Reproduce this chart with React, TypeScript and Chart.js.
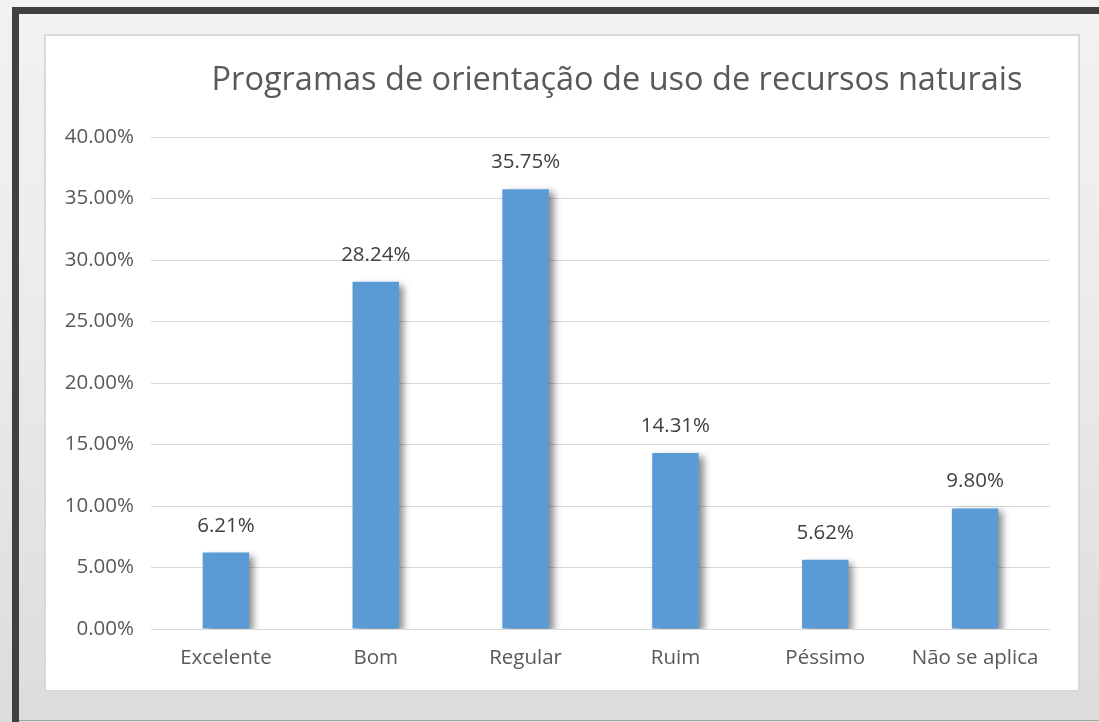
import React, { useEffect, useRef } from "react";
import { Chart, registerables } from "chart.js";

Chart.register(...registerables);

const titleText = "Programas de orientação de uso de recursos naturais";
const categories = ["Excelente", "Bom", "Regular", "Ruim", "Péssimo", "Não se aplica"];
const values = [6.21, 28.24, 35.75, 14.31, 5.62, 9.8];
const yMin = 0;
const yMax = 40;
const yStep = 5;

const FONT = "'Open Sans', Lato, sans-serif";

export default function App() {
  const ref = useRef<HTMLCanvasElement | null>(null);

  useEffect(() => {
    const canvas = ref.current;
    if (!canvas) return;

    const decor = {
      id: "decor",
      beforeDatasetsDraw(chart: any) {
        const ctx = chart.ctx;
        ctx.save();
        ctx.shadowColor = "rgba(0,0,0,0.45)";
        ctx.shadowBlur = 7;
        ctx.shadowOffsetX = 5;
        ctx.shadowOffsetY = 3;
      },
      afterDatasetsDraw(chart: any) {
        const ctx = chart.ctx;
        ctx.restore();
        ctx.save();
        ctx.font = `20.5px ${FONT}`;
        ctx.fillStyle = "#404040";
        ctx.textAlign = "center";
        ctx.textBaseline = "alphabetic";
        const meta = chart.getDatasetMeta(0);
        meta.data.forEach((bar: any, i: number) => {
          ctx.fillText(values[i].toFixed(2) + "%", bar.x, bar.y - 21);
        });
        ctx.restore();
      },
      afterDraw(chart: any) {
        const ctx = chart.ctx;
        ctx.save();
        ctx.font = `32.5px ${FONT}`;
        ctx.fillStyle = "#595959";
        ctx.textAlign = "center";
        ctx.textBaseline = "alphabetic";
        ctx.fillText(titleText, 571, 54);
        ctx.restore();
      },
    };

    const chart = new Chart(canvas, {
      type: "bar",
      data: {
        labels: categories,
        datasets: [
          {
            data: values,
            backgroundColor: "#5B9BD5",
            borderWidth: 0,
            barPercentage: 0.31,
            categoryPercentage: 1,
          },
        ],
      },
      options: {
        responsive: false,
        animation: false,
        devicePixelRatio: 1,
        layout: { padding: { top: 101, right: 28, left: 0, bottom: 0 } },
        plugins: {
          legend: { display: false },
          title: { display: false },
          tooltip: { enabled: false },
        },
        scales: {
          y: {
            min: yMin,
            max: yMax,
            ticks: {
              stepSize: yStep,
              color: "#595959",
              font: { family: FONT, size: 20.5 },
              padding: 17,
              callback: (v: any) => Number(v).toFixed(2) + "%",
            },
            grid: { color: "#d9d9d9", lineWidth: 1, drawTicks: false },
            border: { display: false },
            afterFit: (s: any) => {
              s.width = 105;
            },
          },
          x: {
            ticks: {
              color: "#595959",
              font: { family: FONT, size: 20.5 },
              padding: 17,
            },
            grid: { display: false, drawTicks: false },
            border: { display: false },
            afterFit: (s: any) => {
              s.height = 61;
            },
          },
        },
      },
      plugins: [decor],
    });

    return () => chart.destroy();
  }, []);

  return (
    <div
      style={{
        position: "fixed",
        left: 0,
        top: 0,
        width: 1099,
        height: 722,
        overflow: "hidden",
        background: "linear-gradient(to bottom, #f2f2f2 0%, #ececec 40%, #dcdcdc 100%)",
      }}
    >
      <div style={{ position: "absolute", left: 12, top: 7, right: 0, height: 7, background: "#404040" }} />
      <div style={{ position: "absolute", left: 12, top: 7, width: 7, bottom: 0, background: "#404040" }} />
      <div style={{ position: "absolute", left: 19, top: 720, right: 0, height: 1, background: "#a6a6a6" }} />
      <div
        style={{
          position: "absolute",
          left: 44,
          top: 34,
          width: 1036,
          height: 658,
          boxSizing: "border-box",
          border: "2px solid #d9d9d9",
          background: "#ffffff",
        }}
      >
        <canvas ref={ref} width={1032} height={654} style={{ display: "block", width: 1032, height: 654 }} />
      </div>
    </div>
  );
}
